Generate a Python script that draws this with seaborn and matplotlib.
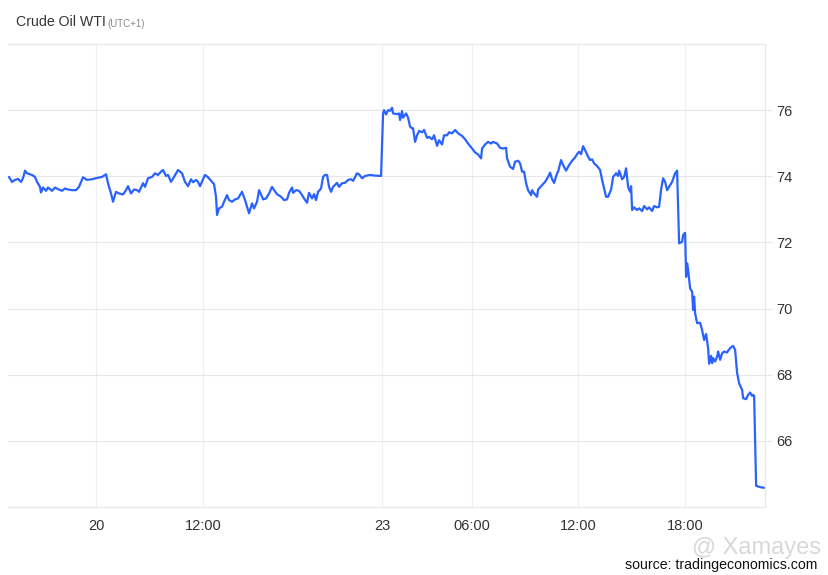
import seaborn as sns
import matplotlib.pyplot as plt
import pandas as pd

# -----------------------------
# Data (bar index on compressed trading-time axis, price in USD)
# -----------------------------
bar_idx = [
    -87, -84, -81, -78, -75, -73, -71, -69, -64, -61, -59, -56, -55, -53, -50, -48, -44, -41, -38, -34,
    -31, -28, -24, -20, -17, -13, -9, -4, 1, 6, 10, 12, 15, 17, 20, 23, 27, 30, 32, 35,
    38, 41, 43, 47, 49, 52, 56, 59, 62, 65, 67, 70, 72, 75, 78, 82, 86, 89, 92, 95,
    97, 100, 102, 104, 107, 109, 112, 116, 118, 120, 121, 123, 126, 128, 131, 133, 136, 139, 142, 146,
    149, 151, 153, 156, 158, 161, 163, 166, 167, 170, 173, 176, 178, 181, 185, 188, 191, 193, 196, 197,
    200, 203, 206, 208, 211, 213, 216, 218, 220, 222, 225, 227, 229, 231, 233, 235, 237, 241, 243, 246,
    249, 252, 255, 257, 261, 263, 266, 269, 274, 279, 285, 287, 288, 290, 292, 294, 296, 297, 301, 303,
    304, 306, 307, 310, 312, 314, 316, 317, 319, 321, 323, 326, 328, 331, 333, 336, 338, 341, 343, 346,
    348, 351, 353, 356, 359, 362, 366, 369, 372, 376, 379, 382, 385, 386, 389, 392, 395, 397, 401, 404,
    407, 410, 411, 414, 417, 419, 422, 424, 426, 428, 430, 432, 435, 436, 438, 441, 442, 446, 449, 452,
    454, 456, 458, 461, 462, 465, 467, 470, 473, 476, 479, 481, 483, 485, 487, 489, 492, 494, 496, 498,
    501, 504, 506, 508, 510, 512, 515, 517, 520, 522, 523, 526, 528, 530, 532, 534, 535, 536, 538, 541,
    543, 546, 548, 551, 553, 556, 558, 561, 563, 565, 567, 569, 571, 574, 576, 579, 581, 583, 586, 587,
    589, 590, 591, 592, 594, 596, 597, 598, 599, 601, 604, 606, 608, 610, 612, 613, 615, 616, 617, 619,
    621, 622, 624, 626, 628, 631, 632, 635, 637, 639, 641, 643, 646, 647, 650, 652, 654, 656, 657, 658,
    660, 664, 668,
]
price = [
    73.98, 73.83, 73.89, 73.92, 73.83, 73.94, 74.17, 74.09, 74.04, 73.98, 73.83, 73.68, 73.51, 73.66, 73.56, 73.66, 73.56, 73.66, 73.61, 73.56,
    73.63, 73.60, 73.58, 73.58, 73.68, 73.97, 73.89, 73.91, 73.95, 73.98, 74.06, 73.79, 73.48, 73.23, 73.53, 73.48, 73.45, 73.58, 73.70, 73.48,
    73.60, 73.58, 73.53, 73.79, 73.68, 73.94, 73.98, 74.09, 74.04, 74.14, 74.19, 74.01, 74.04, 73.83, 73.98, 74.19, 74.09, 73.83, 73.70, 73.91,
    73.82, 73.89, 73.83, 73.70, 73.91, 74.04, 73.97, 73.83, 73.76, 73.38, 72.83, 73.03, 73.08, 73.23, 73.43, 73.28, 73.23, 73.30, 73.33, 73.53,
    73.28, 73.08, 72.88, 73.18, 73.03, 73.23, 73.58, 73.38, 73.30, 73.33, 73.48, 73.68, 73.58, 73.46, 73.38, 73.28, 73.30, 73.50, 73.66, 73.50,
    73.58, 73.56, 73.43, 73.33, 73.20, 73.50, 73.33, 73.46, 73.28, 73.53, 73.63, 73.98, 74.04, 74.04, 73.68, 73.53, 73.68, 73.80, 73.68, 73.79,
    73.80, 73.89, 73.91, 73.86, 74.09, 74.06, 73.94, 74.01, 74.04, 74.02, 74.01, 75.90, 76.00, 75.87, 76.00, 75.98, 76.07, 75.90, 75.88, 75.90,
    75.70, 75.97, 75.77, 75.90, 75.77, 75.50, 75.45, 75.45, 75.04, 75.24, 75.37, 75.33, 75.40, 75.16, 75.19, 75.12, 75.24, 74.92, 75.09, 74.96,
    75.24, 75.24, 75.33, 75.30, 75.40, 75.30, 75.22, 75.12, 74.99, 74.84, 74.72, 74.66, 74.54, 74.84, 74.96, 75.04, 74.99, 75.04, 74.99, 74.86,
    74.84, 74.86, 74.54, 74.29, 74.22, 74.44, 74.47, 74.39, 74.14, 74.14, 73.79, 73.58, 73.43, 73.58, 73.48, 73.38, 73.60, 73.73, 73.83, 73.98,
    74.11, 73.91, 73.80, 74.09, 74.14, 74.49, 74.34, 74.17, 74.34, 74.47, 74.57, 74.67, 74.74, 74.67, 74.91, 74.79, 74.59, 74.49, 74.51, 74.39,
    74.31, 74.19, 73.89, 73.63, 73.38, 73.38, 73.60, 73.98, 74.09, 74.01, 74.17, 73.91, 73.98, 74.24, 73.68, 73.53, 73.70, 72.98, 73.06, 72.98,
    73.03, 72.95, 73.10, 73.00, 73.06, 72.95, 73.10, 73.06, 73.08, 73.60, 73.94, 73.83, 73.58, 73.73, 73.83, 74.09, 74.17, 71.97, 72.02, 72.22,
    72.29, 70.96, 71.37, 71.17, 70.61, 70.51, 69.96, 70.36, 69.86, 69.56, 69.57, 69.35, 69.05, 69.23, 68.80, 68.33, 68.57, 68.35, 68.50, 68.40,
    68.55, 68.70, 68.45, 68.65, 68.70, 68.67, 68.73, 68.83, 68.87, 68.75, 68.05, 67.74, 67.54, 67.29, 67.26, 67.39, 67.46, 67.36, 67.39, 67.36,
    64.64, 64.60, 64.58,
]

tick_pos = [0, 107, 286, 376, 482, 589]
tick_labels = ["20", "12:00", "23", "06:00", "12:00", "18:00"]
y_ticks = [66, 68, 70, 72, 74, 76]

df = pd.DataFrame({"bar": bar_idx, "price": price})

# -----------------------------
# Style
# -----------------------------
sns.set_style("white")
plt.rcParams["font.family"] = ["Liberation Sans", "DejaVu Sans"]

grid_c = "#e8e8e8"
text_c = "#333333"

fig = plt.figure(figsize=(8.29, 5.75), dpi=100)
ax = fig.add_axes([0.00965, 0.1183, 0.9133, 0.8052])

sns.lineplot(data=df, x="bar", y="price", ax=ax, color="#2962ff", linewidth=1.6)

ax.set_xlim(-88, 669)
ax.set_ylim(64, 78)
ax.set_xticks(tick_pos)
ax.set_xticklabels(tick_labels)
ax.set_yticks(y_ticks)
ax.yaxis.tick_right()
ax.set_xlabel("")
ax.set_ylabel("")

ax.grid(True, axis="y", color=grid_c, linewidth=0.9)
ax.grid(True, axis="x", color="#eef0f4", linewidth=0.9)

for side in ["top", "right", "bottom"]:
    ax.spines[side].set_visible(True)
    ax.spines[side].set_color(grid_c)
    ax.spines[side].set_linewidth(0.9)
ax.spines["left"].set_visible(False)

ax.tick_params(axis="x", length=0, pad=9, labelsize=10.5, labelcolor=text_c)
ax.tick_params(axis="y", length=5, color=grid_c, pad=3, labelsize=10.5, labelcolor=text_c)

# title
fig.text(0.019, 0.962, "Crude Oil WTI", fontsize=10.2, color=text_c, va="center", ha="left")
fig.text(0.129, 0.959, "(UTC+1)", fontsize=7, color="#8a8a8a", va="center", ha="left")

# watermark + source
fig.text(0.99, 0.047, "@ Xamayes", fontsize=17, color="#bfbfbf", alpha=0.6,
         va="center", ha="right", fontweight="light")
fig.text(0.986, 0.018, "source: tradingeconomics.com", fontsize=10.2, color="#111111",
         va="center", ha="right")

fig.savefig("out.png", dpi=100)
